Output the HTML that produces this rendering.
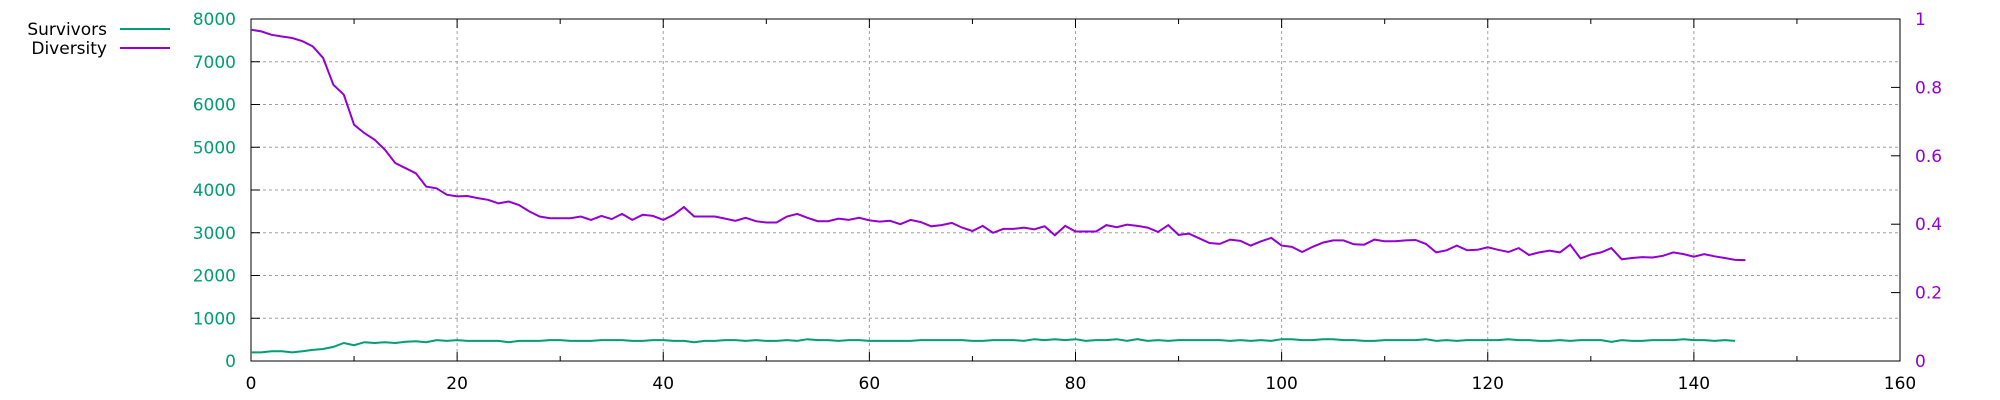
<!DOCTYPE html>
<html><head><meta charset="utf-8"><style>
html,body{margin:0;padding:0;background:#fff;}
svg{display:block;font-family:"DejaVu Sans","Liberation Sans",sans-serif;}
</style></head><body>
<svg id="chart" width="2000" height="400" viewBox="0 0 2000 400"></svg>
<script>
const xTicks=[0,20,40,60,80,100,120,140,160];
const yTicks=[0,1000,2000,3000,4000,5000,6000,7000,8000];
const y2Ticks=["0","0.2","0.4","0.6","0.8","1"];
const diversity=[7750,7710,7630,7590,7555,7480,7360,7090,6460,6230,5525,5330,5175,4940,4630,4510,4390,4080,4040,3890,3850,3860,3810,3770,3690,3730,3650,3500,3380,3340,3340,3340,3380,3300,3395,3320,3440,3300,3420,3395,3300,3420,3600,3380,3380,3380,3330,3280,3350,3270,3240,3240,3380,3440,3350,3270,3270,3330,3300,3350,3290,3260,3280,3200,3300,3250,3150,3180,3230,3120,3040,3160,3000,3090,3090,3120,3080,3150,2940,3160,3030,3030,3030,3180,3130,3190,3160,3120,3020,3180,2950,2980,2870,2760,2740,2840,2810,2700,2800,2880,2700,2670,2550,2670,2770,2820,2820,2730,2720,2840,2800,2800,2820,2830,2740,2540,2590,2700,2590,2600,2660,2600,2550,2640,2480,2540,2580,2540,2720,2400,2490,2540,2640,2380,2410,2430,2420,2460,2540,2500,2440,2500,2450,2410,2365,2360];
const survivors=[200,200,230,230,200,230,260,280,330,420,370,440,420,440,420,450,460,440,490,470,490,470,470,470,470,440,470,470,470,490,490,470,470,470,490,490,490,470,470,490,490,470,470,440,470,470,490,490,470,490,470,470,490,470,510,490,490,470,490,490,470,470,470,470,470,490,490,490,490,490,470,470,490,490,490,470,510,490,510,490,510,470,490,490,510,470,510,470,490,470,490,490,490,490,490,470,490,470,490,470,510,510,490,490,510,510,490,490,470,470,490,490,490,490,510,470,490,470,490,490,490,490,510,490,490,470,470,490,470,490,490,490,450,490,470,470,490,490,490,510,490,490,470,490,470];
const L=251,R=1900,T=19,B=361;
const sx=v=>L+(v-0)/(160-0)*(R-L);
const sy=v=>B-(v/8000)*(B-T);
const sy2=v=>B-v*(B-T);
const svg=document.getElementById('chart');
const NS='http://www.w3.org/2000/svg';
function mk(tag,attrs,parent){const e=document.createElementNS(NS,tag);for(const k in attrs)e.setAttribute(k,attrs[k]);(parent||svg).appendChild(e);return e;}
yTicks.forEach(v=>{if(v>0&&v<8000){const g=mk('line',{x1:L,x2:R,y1:sy(v),y2:sy(v),stroke:'#a0a0a0','stroke-width':1,'stroke-dasharray':'3,3'});

}});
xTicks.forEach(v=>{if(v>0&&v<160){const g=mk('line',{x1:sx(v),x2:sx(v),y1:T,y2:B,stroke:'#a0a0a0','stroke-width':1,'stroke-dasharray':'3,3'});

}});
for(let v=0;v<=160;v+=10){const len=v%20===0?9:5;
mk('line',{x1:sx(v),x2:sx(v),y1:B,y2:B-len,stroke:'#000'});mk('line',{x1:sx(v),x2:sx(v),y1:T,y2:T+len,stroke:'#000'});}
yTicks.forEach(v=>{mk('line',{x1:L,x2:L+9,y1:sy(v),y2:sy(v),stroke:'#000'});});
y2Ticks.forEach(t=>{const v=parseFloat(t);mk('line',{x1:R,x2:R-9,y1:sy2(v),y2:sy2(v),stroke:'#000'});});
const fr=mk('rect',{x:L,y:T,width:R-L,height:B-T,fill:'none',stroke:'#000','stroke-width':1});


xTicks.forEach(v=>{const t=mk('text',{x:sx(v),y:B+28,'text-anchor':'middle','font-size':17,fill:'#000'});t.textContent=v;

});
yTicks.forEach(v=>{const t=mk('text',{x:L-15,y:sy(v)+6,'text-anchor':'end','font-size':17,fill:'#009e73'});t.textContent=v;

});
y2Ticks.forEach(s=>{const t=mk('text',{x:R+15,y:sy2(parseFloat(s))+6,'text-anchor':'start','font-size':17,fill:'#9400d3'});t.textContent=s;

});
function line(arr,color,name){const pts=arr.map((v,i)=>sx(i).toFixed(1)+','+sy(v).toFixed(1)).join(' ');
const p=mk('polyline',{points:pts,fill:'none',stroke:color,'stroke-width':2});

}
line(survivors,'#009e73','survivors-line');
line(diversity,'#9400d3','diversity-line');
[['Survivors','#009e73',29],['Diversity','#9400d3',48]].forEach(([n,c,y])=>{
const t=mk('text',{x:107,y:y+6,'text-anchor':'end','font-size':17,fill:'#000'});t.textContent=n;


const l=mk('line',{x1:120,x2:170,y1:y,y2:y,stroke:c,'stroke-width':2});

});
</script>
</body></html>
